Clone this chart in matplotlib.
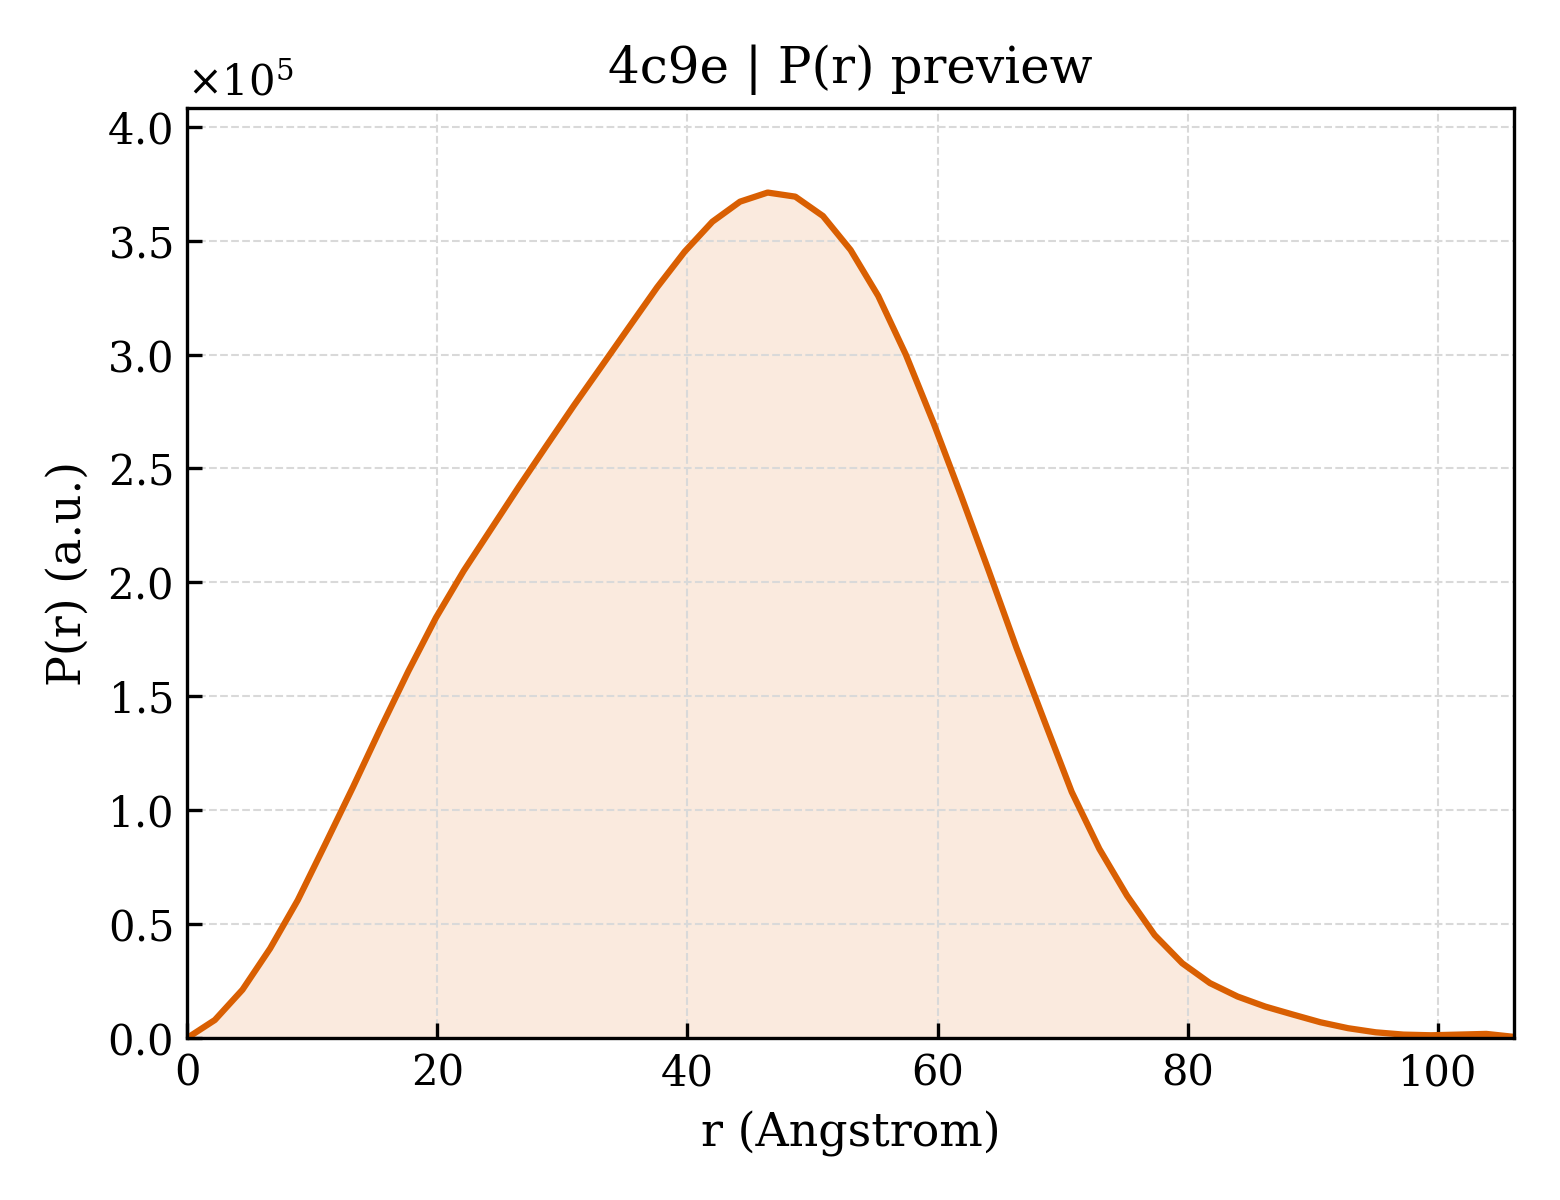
import numpy as np
import matplotlib
matplotlib.use("Agg")
import matplotlib.pyplot as plt
from matplotlib.ticker import ScalarFormatter

# -----------------------------
# DATA
# -----------------------------
r_angstrom = [
    0.00, 2.21, 4.42, 6.63, 8.84, 11.05, 13.26, 15.47, 17.68, 19.89,
    22.10, 24.31, 26.52, 28.73, 30.94, 33.15, 35.36, 37.57, 39.78, 41.99,
    44.20, 46.41, 48.62, 50.83, 53.04, 55.25, 57.46, 59.67, 61.88, 64.09,
    66.30, 68.51, 70.72, 72.93, 75.14, 77.35, 79.56, 81.77, 83.98, 86.19,
    88.40, 90.61, 92.82, 95.03, 97.24, 99.45, 101.66, 103.87, 106.08,
]
pr_values = [
    0.000, 0.079, 0.212, 0.393, 0.605, 0.852, 1.102, 1.360, 1.610, 1.845,
    2.050, 2.235, 2.420, 2.600, 2.778, 2.950, 3.123, 3.295, 3.452, 3.583,
    3.671, 3.711, 3.693, 3.608, 3.459, 3.257, 2.999, 2.700, 2.380, 2.050,
    1.713, 1.395, 1.080, 0.830, 0.625, 0.452, 0.328, 0.241, 0.182, 0.138,
    0.103, 0.069, 0.043, 0.025, 0.015, 0.012, 0.015, 0.018, 0.005,
]
PR_SCALE = 1e5

TITLE = "4c9e | P(r) preview"
XLABEL = "r (Angstrom)"
YLABEL = "P(r) (a.u.)"
LINE_COLOR = "#D95F02"

# -----------------------------
# PLOT
# -----------------------------
plt.rcParams["font.family"] = ["DejaVu Serif"]
plt.rcParams["mathtext.fontset"] = "dejavuserif"

r = np.array(r_angstrom)
pr = np.array(pr_values) * PR_SCALE

fig = plt.figure(figsize=(5.2, 4.0), dpi=300)
ax = fig.add_axes([0.12, 0.135, 0.8505, 0.775])

ax.fill_between(r, 0, pr, color=LINE_COLOR, alpha=0.13, linewidth=0)
ax.plot(r, pr, color=LINE_COLOR, linewidth=1.5)

ax.set_xlim(0, r[-1])
ax.set_ylim(0, pr.max() * 1.1)
ax.set_xticks([0, 20, 40, 60, 80, 100])
ax.set_yticks(np.arange(0, 4.01, 0.5) * PR_SCALE)

fmt = ScalarFormatter(useMathText=True)
fmt.set_powerlimits((0, 0))
ax.yaxis.set_major_formatter(fmt)

ax.tick_params(direction="in", labelsize=10, top=False, right=False)
ax.yaxis.get_offset_text().set_fontsize(10)
ax.grid(True, linestyle="--", linewidth=0.5, color="#d9d9d9")

ax.set_title(TITLE, fontsize=12)
ax.set_xlabel(XLABEL, fontsize=11)
ax.set_ylabel(YLABEL, fontsize=11)

fig.savefig("out.png", dpi=300)
